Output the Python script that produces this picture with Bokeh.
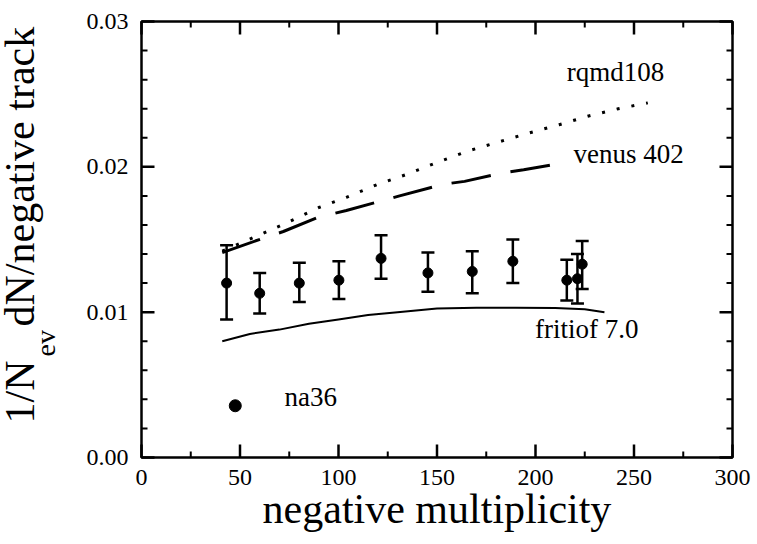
import numpy as np
from bokeh.plotting import figure
from bokeh.layouts import row, column
from bokeh.models import (LinearAxis, Whisker, TeeHead, ColumnDataSource, Label,
                          SingleIntervalTicker, PrintfTickFormatter, Range1d)
from bokeh.embed import file_html
from bokeh.resources import INLINE

# ---- data ----
na36_x = [43.2, 60.0, 80.1, 100.2, 121.6, 145.4, 167.9, 188.5, 215.9, 221.3, 223.7]
na36_y = [0.0120, 0.0113, 0.0120, 0.0122, 0.0137, 0.0127, 0.0128, 0.0135, 0.0122, 0.0123, 0.0133]
na36_lo = [0.0095, 0.0099, 0.0107, 0.0109, 0.0123, 0.0114, 0.0113, 0.0120, 0.0108, 0.0106, 0.0116]
na36_hi = [0.0146, 0.0127, 0.0134, 0.0135, 0.0153, 0.0141, 0.0142, 0.0150, 0.0136, 0.0140, 0.0149]

fritiof_x = [41, 55, 70, 85, 100, 115, 130, 150, 170, 190, 210, 225, 235]
fritiof_y = [0.0080, 0.0085, 0.0088, 0.0092, 0.0095, 0.0098, 0.0100, 0.01025, 0.0103, 0.0103, 0.01028, 0.0102, 0.0100]

venus_x = [41, 62, 72, 89, 104, 131, 153, 164, 184, 194, 211]
venus_y = [0.0141, 0.0151, 0.01555, 0.0165, 0.0170, 0.0180, 0.0188, 0.0190, 0.0196, 0.0198, 0.0202]

rqmd_x = [41, 58, 73, 90, 104, 120, 135, 150, 166, 181, 196, 212, 227, 242, 257]
rqmd_y = [0.0142, 0.0152, 0.0161, 0.0172, 0.0179, 0.0188, 0.0195, 0.0203, 0.0211, 0.0217,
          0.0223, 0.0229, 0.0235, 0.0240, 0.0244]

x_range = (0, 300)
y_range = (0.0, 0.03)
x_major = [0, 50, 100, 150, 200, 250, 300]
x_minor = [25, 75, 125, 175, 225, 275]
y_major = [0.0, 0.01, 0.02, 0.03]
y_minor = [0.002, 0.004, 0.006, 0.008, 0.012, 0.014, 0.016, 0.018, 0.022, 0.024, 0.026, 0.028]
x_title = "negative multiplicity"
y_title_parts = ("1/N", "ev", "dN/negative track")

FONT = "Liberation Serif"

# ---- layout geometry (page pixels) ----
TOTAL_H = 542
YLAB_W = 70
MAIN_W = 685
BOX_L, BOX_R, BOX_T, BOX_B = 141, 732, 21, 457     # plot box on the page
PAD = 20                                            # frame extends beyond the box
FR_L, FR_R, FR_T, FR_B = BOX_L - PAD, BOX_R + PAD, BOX_T - PAD, BOX_B + PAD
BORDER_L = FR_L - YLAB_W
BORDER_R = YLAB_W + MAIN_W - FR_R
BORDER_T = FR_T
BORDER_B = TOTAL_H - FR_B

px_x = (BOX_R - BOX_L) / (x_range[1] - x_range[0])
px_y = (BOX_B - BOX_T) / (y_range[1] - y_range[0])
xr = Range1d(x_range[0] - PAD / px_x, x_range[1] + PAD / px_x)
yr = Range1d(y_range[0] - PAD / px_y, y_range[1] + PAD / px_y)

# ---------------- main plot ----------------
p = figure(width=MAIN_W, height=TOTAL_H, x_range=xr, y_range=yr,
           output_backend="svg", toolbar_location=None,
           x_axis_location=None, y_axis_location=None,
           min_border_left=BORDER_L, min_border_right=BORDER_R,
           min_border_top=BORDER_T, min_border_bottom=BORDER_B)
p.grid.visible = False
p.outline_line_color = None
p.background_fill_color = "white"
p.border_fill_color = "white"

bottom = LinearAxis()
left = LinearAxis()
p.add_layout(bottom, "below")
p.add_layout(left, "left")
bottom.ticker = SingleIntervalTicker(interval=50, num_minor_ticks=2)
left.ticker = SingleIntervalTicker(interval=0.01, num_minor_ticks=5)
left.formatter = PrintfTickFormatter(format="%.2f")

for ax in [bottom, left]:
    ax.axis_line_color = None
    ax.major_tick_line_color = None
    ax.minor_tick_line_color = None
    ax.major_tick_in = 0
    ax.major_tick_out = 0
    ax.minor_tick_in = 0
    ax.minor_tick_out = 0
    ax.major_label_text_font = FONT
    ax.major_label_text_font_size = "24px"
    ax.major_label_text_color = "black"

left.major_label_standoff = -7
bottom.major_label_standoff = -8
bottom.axis_label = x_title
bottom.axis_label_text_font = FONT
bottom.axis_label_text_font_size = "42px"
bottom.axis_label_text_font_style = "normal"
bottom.axis_label_text_color = "black"
bottom.axis_label_standoff = -2

x0, x1 = x_range
y0, y1 = y_range

# plot box
p.quad(left=[x0], right=[x1], bottom=[y0], top=[y1], fill_color=None,
       line_color="black", line_width=2.5)

# inward tick marks, drawn as broken polylines (NaN separates the ticks)
dx_maj, dx_min = 13 / px_x, 6 / px_x
dy_maj, dy_min = 13 / px_y, 6 / px_y
for ticks_x, ticks_y, lw in [((x_major, dy_maj), (y_major, dx_maj), 2.5),
                             ((x_minor, dy_min), (y_minor, dx_min), 2)]:
    tx, dy = ticks_x
    ty, dx = ticks_y
    lx, ly = [], []
    for t in tx:
        lx += [t, t, np.nan, t, t, np.nan]
        ly += [y0, y0 + dy, np.nan, y1, y1 - dy, np.nan]
    for t in ty:
        lx += [x0, x0 + dx, np.nan, x1, x1 - dx, np.nan]
        ly += [t, t, np.nan, t, t, np.nan]
    p.line(lx, ly, line_color="black", line_width=lw)

# model curves
p.line(fritiof_x, fritiof_y, line_color="black", line_width=2)
p.line(venus_x, venus_y, line_color="black", line_width=3, line_dash="40 20")
p.line(rqmd_x, rqmd_y, line_color="black", line_width=3, line_dash="3 12")

# data with error bars
src = ColumnDataSource(dict(x=na36_x, y=na36_y, lo=na36_lo, hi=na36_hi))
wh = Whisker(base="x", upper="hi", lower="lo", source=src, dimension="height",
             line_color="black", line_width=2.5,
             upper_head=TeeHead(size=13, line_width=2.5, line_color="black"),
             lower_head=TeeHead(size=13, line_width=2.5, line_color="black"))
p.add_layout(wh)
p.scatter("x", "y", source=src, size=10, marker="circle", fill_color="black", line_color="black")

# legend marker
LEG_X, LEG_Y = 47.6, 0.00356
p.scatter([LEG_X], [LEG_Y], size=12, marker="circle", fill_color="black", line_color="black")


def lab(fig, x, y, t, size="27px", **kw):
    fig.add_layout(Label(x=x, y=y, text=t, text_font=FONT, text_font_size=size,
                         text_color="black", **kw))


lab(p, 215.9, 0.02551, "rqmd108")
lab(p, 219.3, 0.01984, "venus 402")
lab(p, 199.8, 0.0078, "fritiof 7.0")
lab(p, 72.6, 0.0031, "na36")

# ---------------- y title panel (pixel coordinates) ----------------
ylab = figure(width=YLAB_W, height=TOTAL_H, x_range=Range1d(0, YLAB_W), y_range=Range1d(0, TOTAL_H),
              output_backend="svg", toolbar_location=None,
              x_axis_location=None, y_axis_location=None,
              min_border_left=0, min_border_right=0, min_border_top=0, min_border_bottom=0)
ylab.grid.visible = False
ylab.outline_line_color = None
ylab.background_fill_color = "white"
ylab.border_fill_color = "white"
lab(ylab, 42.3, TOTAL_H - 423, y_title_parts[0], size="42px", angle=np.pi / 2)
lab(ylab, 60, TOTAL_H - 356, y_title_parts[1], size="28px", angle=np.pi / 2)
lab(ylab, 42.3, TOTAL_H - 326, y_title_parts[2], size="42px", angle=np.pi / 2)

layout = row(ylab, column(p, spacing=0), spacing=0)

open("out.html", "w").write(file_html(layout, INLINE))
